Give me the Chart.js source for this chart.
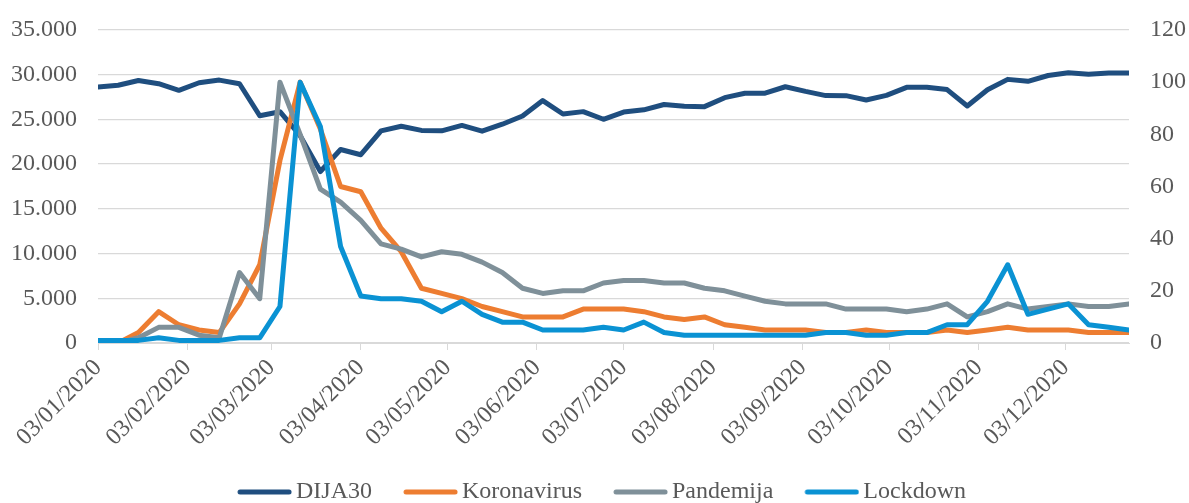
<!DOCTYPE html>
<html>
<head>
<meta charset="utf-8">
<script src="https://cdn.jsdelivr.net/npm/chart.js@4.4.1/dist/chart.umd.min.js"></script>
<style>
  html, body { margin:0; padding:0; background:#fff; overflow:hidden; }
  #wrap { width:1189px; height:503px; }
</style>
</head>
<body>
<div id="wrap"><canvas id="chart" width="1189" height="503"></canvas></div>
<script>
/* DIJA30 vs Google search interest, weekly 2020 */
const WEEKS = ["03/01/2020","10/01/2020","17/01/2020","24/01/2020","31/01/2020","07/02/2020","14/02/2020","21/02/2020","28/02/2020",
  "06/03/2020","13/03/2020","20/03/2020","27/03/2020","03/04/2020","10/04/2020","17/04/2020","24/04/2020","01/05/2020","08/05/2020",
  "15/05/2020","22/05/2020","29/05/2020","05/06/2020","12/06/2020","19/06/2020","26/06/2020","03/07/2020","10/07/2020","17/07/2020",
  "24/07/2020","31/07/2020","07/08/2020","14/08/2020","21/08/2020","28/08/2020","04/09/2020","11/09/2020","18/09/2020","25/09/2020",
  "02/10/2020","09/10/2020","16/10/2020","23/10/2020","30/10/2020","06/11/2020","13/11/2020","20/11/2020","27/11/2020","04/12/2020",
  "11/12/2020","18/12/2020","25/12/2020"];
const TICK_LABELS = ["03/01/2020","03/02/2020","03/03/2020","03/04/2020","03/05/2020","03/06/2020",
  "03/07/2020","03/08/2020","03/09/2020","03/10/2020","03/11/2020","03/12/2020"];

const DIJA30 = [28634,28823,29348,28990,28256,29103,29398,28992,25409,25865,23186,19174,21637,21053,23719,24242,23775,23724,
  24331,23685,24465,25383,27111,25606,25871,25016,25827,26075,26672,26470,26428,27433,27931,27930,28654,28133,27666,27657,
  27174,27683,28587,28606,28336,26502,28323,29480,29263,29910,30218,30046,30179,30200];
const KORONAVIRUS = [0,0,4,12,7,5,4,15,30,70,100,82,60,58,44,35,21,19,17,14,12,10,10,10,13,13,13,12,10,9,10,7,6,5,5,
  5,4,4,5,4,4,4,5,4,5,6,5,5,5,4,4,4];
const PANDEMIJA = [0,0,2,6,6,3,2,27,17,100,80,59,54,47,38,36,33,35,34,31,27,21,19,20,20,23,24,24,23,23,21,20,18,16,15,
  15,15,13,13,13,12,13,15,10,12,15,13,14,15,14,14,15];
const LOCKDOWN = [1,1,1,2,1,1,1,2,2,14,100,83,37,18,17,17,16,12,16,11,8,8,5,5,5,6,5,8,4,3,3,3,3,3,3,
  3,4,4,3,3,4,4,7,7,16,30,11,13,15,7,6,5];

const FONT = 'Liberation Serif';
const TXT = '#595959';
const GRID = '#d9d9d9';
const PLOT_TOP = 30, PLOT_BOTTOM = 343, LEGEND_MID = 492, LEG_PAD = 5, SW_BOX = 73;

function dayNo(s){ const [d,m,y] = s.split('/').map(Number); return Date.UTC(y, m-1, d) / 86400000; }
const day0 = dayNo(WEEKS[0]);
const xOf = s => dayNo(s) - day0;
const tickPos = TICK_LABELS.map(xOf);
const pts = vals => WEEKS.map((w,i) => ({ x: xOf(w), y: vals[i] }));
function thousands(v){ return String(v).replace(/\B(?=(\d{3})+(?!\d))/g, '.'); }

// legend swatch: thick line at the right end of a wider image, so it sits 4px from the text
function swatch(color){
  const c = document.createElement('canvas'); c.width = SW_BOX + 16; c.height = 6;
  const g = c.getContext('2d');
  g.strokeStyle = color; g.lineWidth = 5; g.lineCap = 'round';
  g.beginPath(); g.moveTo(c.width - 52, 3); g.lineTo(c.width - 3, 3); g.stroke();
  return c;
}

function line(label, vals, color, axis, order){
  return { label, data: pts(vals), borderColor: color, backgroundColor: color, borderWidth: 5,
    borderCapStyle: 'round', borderJoinStyle: 'round', pointRadius: 0, pointStyle: swatch(color),
    tension: 0, yAxisID: axis, order };
}

// move the legend row a bit left and down (partly cut by the bottom edge, as in the source)
const legendShift = { id: 'legendShift', afterLayout(c){
  const lg = c.legend;
  const itemH = lg.height - LEG_PAD - 10;
  const dy = LEGEND_MID - (lg.top + LEG_PAD + itemH / 2);
  lg.top += dy; lg.bottom += dy; lg.left -= 6; lg.right -= 6;
} };

const hidden = 'rgba(0,0,0,0)';

new Chart(document.getElementById('chart'), {
  type: 'line',
  data: { datasets: [
    line('DIJA30', DIJA30, '#1f4e7f', 'y', 4),
    line('Koronavirus', KORONAVIRUS, '#ed7d31', 'y1', 3),
    line('Pandemija', PANDEMIJA, '#7f9099', 'y1', 2),
    line('Lockdown', LOCKDOWN, '#0a92d3', 'y1', 1)
  ]},
  plugins: [legendShift],
  options: {
    responsive: false, animation: false,
    layout: { padding: { left: 0, top: PLOT_TOP, right: 0, bottom: 0 } },
    font: { family: FONT, size: 24 },
    plugins: {
      tooltip: { enabled: false },
      legend: { position: 'bottom',
        labels: { usePointStyle: true, pointStyleWidth: SW_BOX, padding: LEG_PAD, color: TXT,
          font: { family: FONT, size: 24 }, sort: (a,b) => a.datasetIndex - b.datasetIndex } }
    },
    scales: {
      x: { type: 'linear', min: 0, max: xOf(WEEKS[WEEKS.length-1]),
        afterBuildTicks: s => { s.ticks = tickPos.map(v => ({ value: v })); },
        afterFit: s => { s.height = 503 - s.chart.legend.height - PLOT_BOTTOM; },
        grid: { drawOnChartArea: false, drawTicks: true, tickLength: 7, color: GRID },
        border: { display: true, color: GRID },
        ticks: { autoSkip: false, minRotation: 45, maxRotation: 45, padding: 4, color: TXT,
          font: { family: FONT, size: 24 },
          callback: v => TICK_LABELS[tickPos.indexOf(v)] ?? '' } },
      y: { position: 'left', min: 0, max: 35000,
        afterFit: s => { s.width = 98; },
        grid: { color: GRID, lineWidth: 1.3, drawTicks: true, tickLength: 21, tickColor: hidden },
        border: { display: false },
        ticks: { stepSize: 5000, padding: 0, color: TXT, font: { family: FONT, size: 24 }, callback: v => thousands(v) } },
      y1: { position: 'right', min: 0, max: 120,
        afterFit: s => { s.width = 60; },
        grid: { display: false, drawTicks: true, tickLength: 21, tickColor: hidden },
        border: { display: false },
        ticks: { stepSize: 20, padding: 0, color: TXT, font: { family: FONT, size: 24 } } }
    }
  }
});
</script>
</body>
</html>
